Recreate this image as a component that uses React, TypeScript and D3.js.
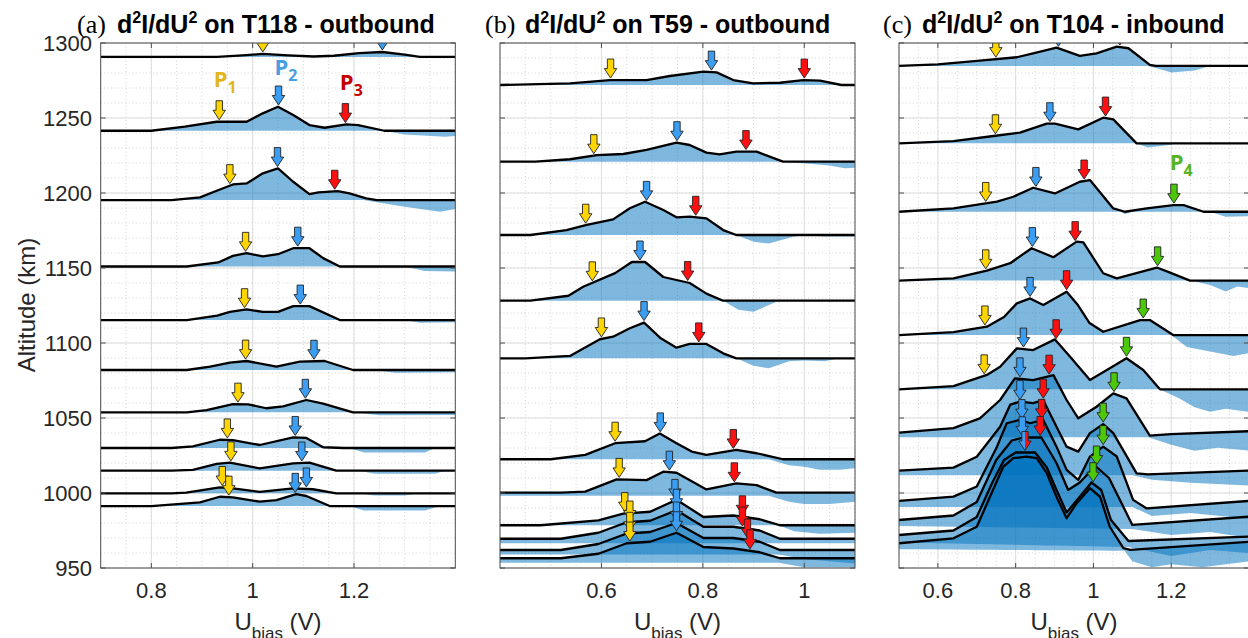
import React from 'react';
import * as d3 from 'd3';

type Pt = [number, number];
type Arrow = [string, number];
interface Trace { base: number; line: Pt[]; lower: Pt[]; arrows: Arrow[] }

// ---------- tick labels ----------
const yTicks = [950, 1000, 1050, 1100, 1150, 1200, 1250, 1300];
const xTicksA = [0.8, 1, 1.2];
const xTicksB = [0.6, 0.8, 1];
const xTicksC = [0.6, 0.8, 1, 1.2];

// ---------- panel (a) T118 outbound ----------
const tracesA: Trace[] = [
  { base: 1290.7, line: [[0.7,0],[0.93,0],[0.98,1],[1.02,2],[1.07,1],[1.12,0.3],[1.16,0.8],[1.21,2.5],[1.256,3.3],[1.3,1.5],[1.33,0],[1.4,0]], lower: [[0.7,0],[1.4,0]], arrows: [['y',1.02],['b',1.256]] },
  { base: 1241.5, line: [[0.7,0],[0.8,0],[0.866,2.7],[0.929,6],[0.988,6],[1.02,11.6],[1.05,16],[1.08,10.5],[1.112,3.8],[1.142,2],[1.185,4.2],[1.208,3.8],[1.26,0],[1.4,0]], lower: [[0.7,0],[1.26,0],[1.3,-2.5],[1.38,-4],[1.4,-3.5]], arrows: [['y',0.934],['b',1.051],['r',1.183]] },
  { base: 1195.3, line: [[0.7,0],[0.84,0],[0.896,1.8],[0.929,6.2],[0.961,10.4],[0.988,11.1],[1.02,17.8],[1.05,21.1],[1.08,12.2],[1.112,4],[1.13,5.1],[1.168,6],[1.191,4.4],[1.224,1.1],[1.245,0],[1.4,0]], lower: [[0.7,0],[1.22,0],[1.3,-4.5],[1.37,-7.8],[1.4,-6]], arrows: [['y',0.955],['b',1.049],['r',1.162]] },
  { base: 1151, line: [[0.7,0],[0.87,0],[0.932,2.7],[0.961,7.1],[0.988,8.9],[1.02,6.7],[1.05,8.2],[1.08,12.2],[1.112,12.2],[1.139,5.6],[1.172,0],[1.4,0]], lower: [[0.7,0],[1.3,0],[1.34,-3],[1.4,-3.3]], arrows: [['y',0.986],['b',1.089]] },
  { base: 1115.3, line: [[0.7,0],[0.87,0],[0.93,3],[0.955,5.5],[0.988,7.1],[1.02,5.5],[1.05,5.5],[1.08,9.3],[1.112,9.3],[1.172,0],[1.4,0]], lower: [[0.7,0],[1.3,0],[1.33,-1.8],[1.4,-1.5]], arrows: [['y',0.984],['b',1.094]] },
  { base: 1082, line: [[0.7,0],[0.87,0],[0.916,2.2],[0.955,4.9],[0.988,6],[1.047,2.2],[1.093,5.6],[1.142,6],[1.198,0],[1.4,0]], lower: [[0.7,0],[1.24,0],[1.28,-1.8],[1.4,-1.5]], arrows: [['y',0.986],['b',1.121]] },
  { base: 1053.8, line: [[0.7,0],[0.87,0],[0.909,1.5],[0.961,5.5],[0.991,5.3],[1.027,2.7],[1.06,4],[1.106,8.2],[1.139,5.8],[1.198,0],[1.4,0]], lower: [[0.7,0],[1.2,0],[1.25,-2],[1.4,-1.8]], arrows: [['y',0.971],['b',1.104]] },
  { base: 1030, line: [[0.7,0],[0.84,0],[0.882,1.1],[0.935,5.5],[0.961,5.3],[1.014,2],[1.08,7.1],[1.106,6.7],[1.139,0.5],[1.18,0],[1.4,0]], lower: [[0.7,0],[1.19,0],[1.22,-3],[1.34,-3],[1.36,0],[1.4,0]], arrows: [['y',0.95],['b',1.084]] },
  { base: 1014.9, line: [[0.7,0],[0.84,0],[0.882,0.5],[0.929,4.5],[0.955,5.3],[1.014,1.5],[1.08,4.9],[1.112,5.3],[1.165,0],[1.4,0]], lower: [[0.7,0],[1.21,0],[1.24,-2],[1.36,-2],[1.38,0],[1.4,0]], arrows: [['y',0.957],['b',1.097]] },
  { base: 999.8, line: [[0.7,0],[0.84,0],[0.869,0.5],[0.935,4],[0.961,3.3],[1.014,1],[1.08,3.3],[1.119,2.7],[1.165,0],[1.4,0]], lower: [[0.7,0],[1.21,0],[1.24,-1.5],[1.3,-1.5],[1.33,0],[1.4,0]], arrows: [['y',0.94],['b',1.106]] },
  { base: 991.3, line: [[0.7,0],[0.8,0],[0.896,2.4],[0.935,6.2],[0.961,5.8],[1.014,2.9],[1.047,4],[1.086,8],[1.106,6.7],[1.152,0],[1.4,0]], lower: [[0.7,0],[1.19,0],[1.22,-3],[1.34,-3],[1.37,0],[1.4,0]], arrows: [['y',0.953],['b',1.084]] },
];

// ---------- panel (b) T59 outbound ----------
const tracesB: Trace[] = [
  { base: 1272, line: [[0.4,0],[0.538,1.1],[0.617,3.3],[0.689,3.3],[0.735,6],[0.801,8.9],[0.827,8.4],[0.86,3.3],[0.899,1.1],[0.952,1.5],[0.998,3.3],[1.031,2.9],[1.073,0],[1.1,0]], lower: [[0.4,0],[1.1,0]], arrows: [['y',0.618],['b',0.817],['r',1.0]] },
  { base: 1220.9, line: [[0.4,0],[0.47,0],[0.538,1.6],[0.591,4.3],[0.643,5.1],[0.689,7.8],[0.748,12.7],[0.774,11.1],[0.807,6],[0.833,4.9],[0.866,6.7],[0.906,6.7],[0.958,0],[1.1,0]], lower: [[0.4,0],[0.96,0],[1.05,-2.5],[1.08,-4.4],[1.1,-4]], arrows: [['y',0.585],['b',0.749],['r',0.885]] },
  { base: 1172, line: [[0.4,0],[0.46,0],[0.531,3.3],[0.571,6.7],[0.623,10.4],[0.656,17.8],[0.686,22.2],[0.722,16.7],[0.748,11.8],[0.774,12.2],[0.807,11.1],[0.84,3.3],[0.866,0],[1.1,0]], lower: [[0.4,0],[0.866,0],[0.9,-4.5],[0.93,-5.6],[0.98,-1],[1.0,0],[1.04,-1],[1.1,-1]], arrows: [['y',0.569],['b',0.689],['r',0.786]] },
  { base: 1128.2, line: [[0.4,0],[0.46,0],[0.535,3.3],[0.564,9.3],[0.627,18.4],[0.66,25.8],[0.686,25.8],[0.722,15.8],[0.774,11.8],[0.807,4.7],[0.84,0],[1.1,0]], lower: [[0.4,0],[0.84,0],[0.87,-6],[0.9,-7.3],[0.95,0],[1.1,0]], arrows: [['y',0.582],['b',0.676],['r',0.77]] },
  { base: 1089.8, line: [[0.4,0],[0.45,0],[0.538,1.6],[0.597,12.7],[0.623,14.4],[0.656,20],[0.684,23.8],[0.717,13.3],[0.748,7.1],[0.774,9.6],[0.807,9.6],[0.84,3.3],[0.866,0],[1.1,0]], lower: [[0.4,0],[0.866,0],[0.9,-5],[0.93,-6.7],[0.97,-2],[1.0,-1.5],[1.04,-2],[1.07,0],[1.1,0]], arrows: [['y',0.6],['b',0.684],['r',0.792]] },
  { base: 1022.5, line: [[0.4,0],[0.5,0],[0.568,2.9],[0.627,10.7],[0.686,12],[0.715,17.1],[0.748,10.7],[0.778,5.1],[0.807,2.9],[0.866,6.2],[0.906,4],[0.958,0],[1.1,0]], lower: [[0.4,0],[0.93,0],[0.97,-4],[1.0,-5],[1.03,-7],[1.07,-7],[1.1,-6]], arrows: [['y',0.627],['b',0.716],['r',0.86]] },
  { base: 1000.2, line: [[0.4,0],[0.52,0],[0.568,0.7],[0.63,8.9],[0.689,8.4],[0.722,14],[0.748,13.3],[0.807,2.2],[0.866,6.2],[0.906,5],[0.945,0],[1.1,0]], lower: [[0.4,-2],[0.93,-2],[0.97,-6],[1.0,-7.6],[1.05,-7.6],[1.1,-6]], arrows: [['y',0.635],['b',0.734],['r',0.862]] },
  { base: 978.5, line: [[0.4,0],[0.48,0],[0.594,3.3],[0.643,7.7],[0.696,9],[0.748,17],[0.801,5.5],[0.86,6.5],[0.912,4],[0.952,0],[1.1,0]], lower: [[0.4,0],[0.95,0],[0.98,-4],[1.03,-5.6],[1.1,-5]], arrows: [['y',0.646],['b',0.745],['r',0.878]] },
  { base: 969.5, line: [[0.4,0],[0.52,0],[0.594,4],[0.65,11],[0.696,12],[0.748,19],[0.801,8],[0.86,8],[0.912,5.5],[0.952,0],[1.1,0]], lower: [[0.4,-3],[1.1,-3]], arrows: [['y',0.656],['b',0.748],['r',0.878]] },
  { base: 962, line: [[0.4,0],[0.52,0],[0.594,4],[0.65,11],[0.696,12],[0.748,18],[0.801,8],[0.86,8],[0.912,5.5],[0.952,0],[1.1,0]], lower: [[0.4,-3],[0.95,-3],[1.0,-6],[1.1,-9]], arrows: [['y',0.656],['b',0.748],['r',0.888]] },
  { base: 956.5, line: [[0.4,0],[0.52,0],[0.594,3],[0.65,10],[0.696,11],[0.748,17],[0.801,7.5],[0.86,6.5],[0.912,4],[0.952,0],[1.1,0]], lower: [[0.4,-3],[0.95,-3],[1.0,-6],[1.1,-6]], arrows: [['y',0.656],['b',0.748],['r',0.893]] },
];

// ---------- panel (c) T104 inbound ----------
const tracesC: Trace[] = [
  { base: 1284.7, line: [[0.5,0],[0.6,1],[0.708,3.6],[0.803,5.8],[0.845,8.4],[0.905,12.2],[0.965,6.7],[1.008,8.4],[1.06,12.9],[1.09,11.8],[1.145,0.7],[1.16,0],[1.4,0]], lower: [[0.5,0],[1.14,0],[1.17,-2],[1.2,-4.4],[1.26,-3],[1.3,0],[1.4,0]], arrows: [['y',0.749],['b',0.91],['r',1.068]] },
  { base: 1233.1, line: [[0.5,0],[0.64,1.5],[0.743,4.9],[0.811,7.1],[0.88,13.1],[0.901,13.1],[0.961,9.3],[1.025,17.1],[1.051,16],[1.111,0],[1.4,0]], lower: [[0.5,0],[1.11,0],[1.14,-2.7],[1.2,-1],[1.22,1],[1.25,0],[1.4,0]], arrows: [['y',0.748],['b',0.888],['r',1.031]] },
  { base: 1187.5, line: [[0.5,0],[0.64,2.2],[0.752,6.7],[0.794,10],[0.845,16],[0.901,12.2],[0.965,20],[0.991,21.1],[1.051,2.2],[1.081,0],[1.137,2.2],[1.206,4.4],[1.232,4.4],[1.283,0],[1.4,0]], lower: [[0.5,0],[1.07,0],[1.08,-1.5],[1.1,0],[1.3,0],[1.34,-3.3],[1.4,-3]], arrows: [['y',0.723],['b',0.852],['r',0.976],['g',1.207]] },
  { base: 1141.6, line: [[0.5,0],[0.64,1.5],[0.726,6.7],[0.786,11.6],[0.841,21.6],[0.897,15.6],[0.957,26],[0.974,25.5],[1.025,4.9],[1.06,1.5],[1.163,8.7],[1.197,5.3],[1.248,0],[1.4,0]], lower: [[0.5,0],[1.25,0],[1.3,-3],[1.34,-7.3],[1.37,-4],[1.4,-5]], arrows: [['y',0.723],['b',0.843],['r',0.953],['g',1.165]] },
  { base: 1105.3, line: [[0.5,0],[0.64,2],[0.726,5.6],[0.77,12],[0.803,21.1],[0.837,24.4],[0.871,20],[0.931,28.9],[0.96,20],[0.99,8],[1.025,2.2],[1.12,10],[1.145,10],[1.205,0],[1.4,0]], lower: [[0.5,0],[1.2,0],[1.24,-8],[1.28,-10],[1.32,-12],[1.36,-14],[1.4,-12]], arrows: [['y',0.721],['b',0.837],['r',0.931],['g',1.128]] },
  { base: 1069.1, line: [[0.5,0],[0.64,2.2],[0.726,9.6],[0.76,15.1],[0.803,27.3],[0.845,26.2],[0.901,33.3],[0.94,21.8],[0.991,6.2],[1.042,14],[1.085,20.7],[1.128,12.9],[1.171,0],[1.4,0]], lower: [[0.5,0],[1.17,0],[1.22,-6],[1.26,-12],[1.3,-15],[1.34,-13],[1.4,-15]], arrows: [['y',0.719],['b',0.82],['r',0.904],['g',1.085]] },
  { base: 1040.2, line: [[0.5,0],[0.64,3],[0.708,9.6],[0.76,21.8],[0.798,36.2],[0.845,35.1],[0.897,38.4],[0.931,21.8],[0.961,9.6],[1.008,17.3],[1.051,26.2],[1.085,22.9],[1.145,-2],[1.2,-1],[1.4,1]], lower: [[0.5,-3],[1.14,-3],[1.2,-8],[1.26,-12],[1.32,-10],[1.4,-12]], arrows: [['b',0.811],['r',0.886],['g',1.053]] },
  { base: 1014.9, line: [[0.5,0],[0.64,2],[0.7,9.3],[0.76,29.3],[0.786,44],[0.811,46],[0.845,45],[0.871,47],[0.905,29.3],[0.931,16],[0.961,12.7],[0.991,25],[1.025,31],[1.051,25],[1.111,-1.8],[1.14,-2.5],[1.4,0]], lower: [[0.5,-3],[1.1,-3],[1.15,-6],[1.25,-8],[1.4,-10]], arrows: [['b',0.811],['r',0.871],['g',1.025]] },
  { base: 994.7, line: [[0.5,0],[0.64,2.9],[0.7,9.6],[0.752,36.2],[0.777,51.8],[0.811,54],[0.837,51.8],[0.871,54],[0.905,36.2],[0.931,20.7],[0.961,14],[0.991,29.6],[1.025,36.2],[1.06,29.6],[1.102,0.7],[1.137,-5],[1.4,0]], lower: [[0.5,-4],[1.1,-4],[1.15,-10],[1.25,-8],[1.4,-12]], arrows: [['b',0.816],['r',0.867],['g',1.025]] },
  { base: 982, line: [[0.5,0],[0.64,3],[0.7,12],[0.75,40],[0.79,53],[0.82,55],[0.866,55],[0.905,38],[0.935,20],[0.965,25],[1.005,36],[1.04,28],[1.1,-3.3],[1.4,2.2]], lower: [[0.5,-4],[1.1,-6],[1.2,-10],[1.3,-8],[1.4,-12]], arrows: [['b',0.817],['r',0.863],['g',1.008]] },
  { base: 972, line: [[0.5,0],[0.64,3],[0.7,12],[0.74,35],[0.77,50],[0.8,55],[0.85,55],[0.88,45],[0.905,30],[0.931,15],[0.96,24],[0.995,35],[1.02,30],[1.045,10],[1.09,-4],[1.4,-1]], lower: [[0.5,-5],[1.09,-8],[1.2,-14],[1.3,-10],[1.4,-12]], arrows: [['br',0.824],['g',0.999]] },
  { base: 966.5, line: [[0.5,0],[0.64,3.3],[0.7,11],[0.734,31],[0.768,51],[0.794,56.7],[0.828,57.8],[0.854,56.7],[0.88,46.7],[0.905,31],[0.931,16.7],[0.957,26.7],[0.991,36.7],[1.017,31],[1.042,11],[1.077,-3.3],[1.095,-4.4],[1.4,1]], lower: [[0.5,-4],[1.08,-5],[1.1,-12],[1.15,-16],[1.2,-14],[1.28,-16],[1.4,-12]], arrows: [] },
];

// ---------- peak labels ----------
const peakLabels = [
  { panel: 0, sub: '1', u: 0.923, alt: 1270.5, color: '#E3B51B' },
  { panel: 0, sub: '2', u: 1.043, alt: 1278.5, color: '#4A9EE0' },
  { panel: 0, sub: '3', u: 1.172, alt: 1268.5, color: '#C40000' },
  { panel: 2, sub: '4', u: 1.196, alt: 1215.5, color: '#55B325' },
];

const W = 1248, H = 638;
const Y_TOP = 43, Y_BOT = 568;

const panels = [
  { x0: 100.7, x1: 455.3, dom: [0.7, 1.4], ticks: xTicksA, traces: tracesA, yLabels: true, letter: '(a)', tx: 77, bx: 117, name: 'T118 - outbound' },
  { x0: 500, x1: 855, dom: [0.4, 1.1], ticks: xTicksB, traces: tracesB, yLabels: false, letter: '(b)', tx: 485, bx: 525, name: 'T59 - outbound' },
  { x0: 899, x1: 1249, dom: [0.5, 1.4], ticks: xTicksC, traces: tracesC, yLabels: false, letter: '(c)', tx: 883, bx: 922, name: 'T104 - inbound' },
];

const arrowFill: Record<string, string> = { y: '#FFD500', b: '#3C9EF2', r: '#FF1010', g: '#4CC70A' };

function interp(pts: Pt[], u: number): number {
  if (u <= pts[0][0]) return pts[0][1];
  const n = pts.length;
  if (u >= pts[n - 1][0]) return pts[n - 1][1];
  for (let i = 1; i < n; i++) {
    if (u <= pts[i][0]) {
      const [u0, h0] = pts[i - 1];
      const [u1, h1] = pts[i];
      return h0 + ((h1 - h0) * (u - u0)) / (u1 - u0);
    }
  }
  return pts[n - 1][1];
}

function arrowPath(x: number, y: number) {
  const Ht = 19, hh = 9.5, hw = 6.2, sw = 3.2;
  return `M${x},${y}L${x - hw},${y - hh}L${x - sw},${y - hh}L${x - sw},${y - Ht}L${x + sw},${y - Ht}L${x + sw},${y - hh}L${x + hw},${y - hh}Z`;
}
function halfArrowPath(x: number, y: number) {
  const Ht = 19, hh = 9.5, hw = 6.2, sw = 3.2;
  return `M${x},${y}L${x},${y - Ht}L${x + sw},${y - Ht}L${x + sw},${y - hh}L${x + hw},${y - hh}Z`;
}

const sans = "'Liberation Sans', Arial, Helvetica, sans-serif";
const serif = "'Liberation Serif', 'Times New Roman', serif";

export default function App() {
  const y = d3.scaleLinear().domain([950, 1300]).range([Y_BOT, Y_TOP]);
  const yMinor = d3.range(950, 1301, 10);

  return (
    <svg width={W} height={H} style={{ position: 'absolute', left: 0, top: 0, background: '#fff' }} fontFamily={sans}>
      <defs>
        {panels.map((p, i) => (
          <clipPath id={`clip${i}`} key={i}>
            <rect x={p.x0} y={Y_TOP} width={p.x1 - p.x0} height={Y_BOT - Y_TOP} />
          </clipPath>
        ))}
      </defs>
      {panels.map((p, pi) => {
        const x = d3.scaleLinear().domain(p.dom).range([p.x0, p.x1]);
        const xMinor = d3.range(Math.ceil(p.dom[0] / 0.05) * 0.05, p.dom[1] + 1e-9, 0.05);
        const area = d3.area<[number, number, number]>().x(d => x(d[0])).y0(d => y(d[2])).y1(d => y(d[1]));
        const lineGen = d3.line<Pt>().x(d => x(d[0])).y(d => y(d[1]));
        return (
          <g key={pi}>
            {/* grid */}
            <g>
              {xMinor.map((v, i) => (
                <line key={'xm' + i} x1={x(v)} x2={x(v)} y1={Y_TOP} y2={Y_BOT} stroke="#c8c8c8" strokeWidth={0.8} strokeDasharray="1,2.5" />
              ))}
              {yMinor.map((v, i) => (
                <line key={'ym' + i} x1={p.x0} x2={p.x1} y1={y(v)} y2={y(v)} stroke="#c8c8c8" strokeWidth={0.8} strokeDasharray="1,2.5" />
              ))}
              {p.ticks.map((v, i) => (
                <line key={'xg' + i} x1={x(v)} x2={x(v)} y1={Y_TOP} y2={Y_BOT} stroke="#dedede" strokeWidth={1} />
              ))}
              {yTicks.map((v, i) => (
                <line key={'yg' + i} x1={p.x0} x2={p.x1} y1={y(v)} y2={y(v)} stroke="#dedede" strokeWidth={1} />
              ))}
            </g>
            <g clipPath={`url(#clip${pi})`}>
              {p.traces.map((t, ti) => {
                const us = Array.from(new Set([p.dom[0], p.dom[1], ...t.line.map(d => d[0]), ...t.lower.map(d => d[0])])).filter(u => u >= p.dom[0] && u <= p.dom[1]).sort((a, b) => a - b);
                const data: [number, number, number][] = us.map(u => [u, t.base + Math.max(interp(t.line, u), interp(t.lower, u)), t.base + interp(t.lower, u)]);
                return <path key={'f' + ti} d={area(data) || ''} fill="#0072BD" fillOpacity={0.5} stroke="none" />;
              })}
              {p.traces.map((t, ti) => {
                const pts: Pt[] = [[p.dom[0], t.base + interp(t.line, p.dom[0])], ...t.line.map(d => [d[0], t.base + d[1]] as Pt), [p.dom[1], t.base + interp(t.line, p.dom[1])]];
                return <path key={'l' + ti} d={lineGen(pts) || ''} fill="none" stroke="#000" strokeWidth={2.3} strokeLinejoin="round" />;
              })}
              {p.traces.map((t, ti) =>
                t.arrows.map(([c, u], ai) => {
                  const ax = x(u);
                  const ay = y(t.base + interp(t.line, u)) - 2;
                  if (c === 'br') {
                    return (
                      <g key={`a${ti}-${ai}`}>
                        <path d={arrowPath(ax, ay)} fill={arrowFill.b} stroke="none" />
                        <path d={halfArrowPath(ax, ay)} fill={arrowFill.r} stroke="none" />
                        <path d={arrowPath(ax, ay)} fill="none" stroke="#222" strokeWidth={0.9} />
                      </g>
                    );
                  }
                  return <path key={`a${ti}-${ai}`} d={arrowPath(ax, ay)} fill={arrowFill[c]} stroke="#222" strokeWidth={0.9} />;
                })
              )}
            </g>
            {/* frame */}
            <rect x={p.x0} y={Y_TOP} width={p.x1 - p.x0} height={Y_BOT - Y_TOP} fill="none" stroke="#4d4d4d" strokeWidth={1} />
            {/* ticks */}
            {p.ticks.map((v, i) => (
              <g key={'xt' + i}>
                <line x1={x(v)} x2={x(v)} y1={Y_BOT} y2={Y_BOT - 5} stroke="#4d4d4d" />
                <line x1={x(v)} x2={x(v)} y1={Y_TOP} y2={Y_TOP + 5} stroke="#4d4d4d" />
                <text x={x(v)} y={598} textAnchor="middle" fontSize={22} fill="#262626">{String(v)}</text>
              </g>
            ))}
            {yTicks.map((v, i) => (
              <g key={'yt' + i}>
                <line x1={p.x0} x2={p.x0 + 5} y1={y(v)} y2={y(v)} stroke="#4d4d4d" />
                <line x1={p.x1} x2={p.x1 - 5} y1={y(v)} y2={y(v)} stroke="#4d4d4d" />
                {p.yLabels && (
                  <text x={92} y={y(v) + 8} textAnchor="end" fontSize={22} fill="#262626">{v}</text>
                )}
              </g>
            ))}
            {/* title */}
            <text x={p.tx} y={33} fontFamily={serif} fontSize={26} fill="#000">{p.letter}</text>
            <text x={p.bx} y={33} fontSize={25} fontWeight="bold" fill="#000">
              <tspan>d</tspan>
              <tspan dy={-10} fontSize={16}>2</tspan>
              <tspan dy={10}>I/dU</tspan>
              <tspan dy={-10} fontSize={16}>2</tspan>
              <tspan dy={10}>{' on ' + p.name}</tspan>
            </text>
            {/* x label */}
            <text x={(p.x0 + p.x1) / 2} y={630} textAnchor="middle" fontSize={24} fill="#262626">
              <tspan>U</tspan>
              <tspan dy={9} fontSize={17}>bias</tspan>
              <tspan dy={-9}>{' (V)'}</tspan>
            </text>
          </g>
        );
      })}
      {/* y label */}
      <text transform="translate(35,305) rotate(-90)" textAnchor="middle" fontSize={24} fill="#262626">Altitude (km)</text>
      {/* peak labels */}
      {peakLabels.map((l, i) => {
        const p = panels[l.panel];
        const x = d3.scaleLinear().domain(p.dom).range([p.x0, p.x1]);
        return (
          <text key={'pl' + i} x={x(l.u)} y={y(l.alt)} fontSize={22} fontWeight="bold" fill={l.color} fontFamily="'Open Sans', 'Noto Sans', sans-serif">
            <tspan>P</tspan>
            <tspan dy={6} fontSize={16}>{l.sub}</tspan>
          </text>
        );
      })}
    </svg>
  );
}
